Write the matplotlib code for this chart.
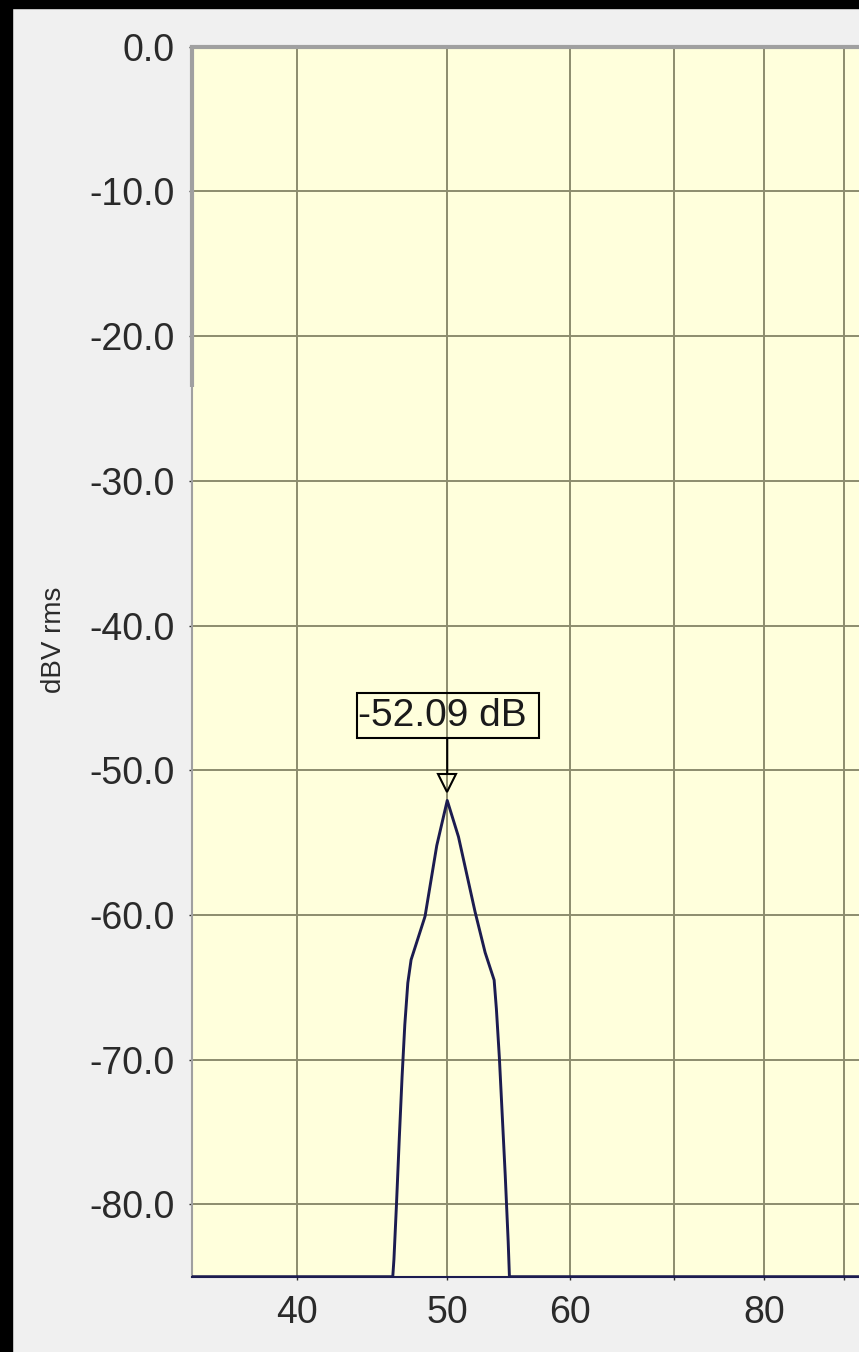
import matplotlib
matplotlib.use("Agg")
import matplotlib.pyplot as plt
import matplotlib.transforms as mtransforms
from matplotlib.patches import Rectangle
from matplotlib.ticker import FixedLocator, FixedFormatter, NullLocator

plt.rcParams['font.family'] = ['Liberation Sans', 'DejaVu Sans']

# ---- data ----
freq_hz = [30.0, 46.12, 46.20, 46.37, 46.57, 46.76, 46.95, 47.16, 47.39,
           48.38, 49.23, 50.00, 50.84, 52.11, 52.89, 53.60, 53.78, 54.02,
           54.24, 54.49, 54.73, 54.83, 120.0]
level_dbv = [-85.0, -85.0, -83.8, -80.1, -75.4, -71.2, -67.6, -64.7, -63.1,
             -60.1, -55.2, -52.09, -54.6, -59.8, -62.6, -64.5, -66.5, -69.9,
             -73.7, -78.0, -82.6, -85.0, -85.0]

peak_freq = 50.0
peak_level = -52.09
peak_label = "-52.09 dB"

x_ticks = [40, 50, 60, 70, 80, 90, 100]
x_tick_labels = ["40", "50", "60", "", "80", "", ""]
y_ticks = [0, -10, -20, -30, -40, -50, -60, -70, -80]
y_tick_labels = ["0.0", "-10.0", "-20.0", "-30.0", "-40.0", "-50.0",
                 "-60.0", "-70.0", "-80.0"]
y_label = "dBV rms"

# ---- figure ----
W, H = 859, 1352
fig = plt.figure(figsize=(W / 100, H / 100), dpi=100, facecolor="#f0f0f0")

ax_left_px, ax_right_px = 191.7, 914.7
ax_top_px, ax_bot_px = 46.7, 1276.7
ax = fig.add_axes([ax_left_px / W, (H - ax_bot_px) / H,
                   (ax_right_px - ax_left_px) / W, (ax_bot_px - ax_top_px) / H])
ax.set_facecolor("#ffffdc")

ax.set_xscale("log")
ax.set_xlim(34.23, 100)
ax.set_ylim(-85, 0)

grid_col = "#8c8c6e"
ax.xaxis.set_major_locator(FixedLocator(x_ticks))
ax.xaxis.set_major_formatter(FixedFormatter(x_tick_labels))
ax.xaxis.set_minor_locator(NullLocator())
ax.set_yticks(y_ticks)
ax.set_yticklabels(y_tick_labels)
ax.grid(True, which="major", color=grid_col, lw=1.4, zorder=1)
ax.set_axisbelow(True)

ax.tick_params(axis="both", which="major", labelsize=27, colors="#2a2a2a",
               length=2, width=1)
ax.tick_params(axis="y", pad=10)
ax.tick_params(axis="x", pad=11)

ax.set_ylabel(y_label, fontsize=20, color="#2a2a2a")
ax.yaxis.set_label_coords(-0.172, 0.518)

ax.spines["right"].set_visible(False)
ax.spines["top"].set_color("#a0a0a0")
ax.spines["top"].set_linewidth(3.0)
ax.spines["left"].set_color("#a0a0a0")
ax.spines["left"].set_linewidth(1.5)
ax.spines["bottom"].set_color("#1c1c50")
ax.spines["bottom"].set_linewidth(1.5)
# thicker upper part of the left frame
ax.plot([34.23, 34.23], [0, -23.5], color="#a0a0a0", lw=3.0, clip_on=False,
        solid_capstyle="butt", zorder=3)

# trace
ax.plot(freq_hz, level_dbv, color="#1c1c50", lw=2.1, zorder=4)

# peak marker annotation (box offsets in pixels relative to the peak)
px, py = ax.transData.transform((peak_freq, peak_level))
box = Rectangle((px - 90.5, py + 62), 182.6, 45, transform=None,
                fill=False, ec="black", lw=1.5, zorder=6)
fig.add_artist(box)
fig.text(px - 89, py + 84.5, peak_label, transform=None, ha="left",
         va="center", fontsize=28, color="#1a1a1a", zorder=7)
ax.annotate("", xy=(peak_freq, peak_level), xycoords="data",
            xytext=(0, 62), textcoords="offset pixels",
            arrowprops=dict(arrowstyle="-", color="black", lw=1.5,
                            shrinkA=0, shrinkB=20),
            zorder=6)
tr = mtransforms.offset_copy(ax.transData, fig=fig, x=0, y=17, units="dots")
ax.plot([peak_freq], [peak_level], transform=tr, marker="v", ms=13,
        mfc="none", mec="black", mew=1.5, zorder=6)

# black screenshot borders
fig.add_artist(Rectangle((0, 1 - 8 / H), 1, 8 / H, transform=fig.transFigure,
                         color="black", zorder=10))
fig.add_artist(Rectangle((0, 0), 12 / W, 1, transform=fig.transFigure,
                         color="black", zorder=10))

fig.savefig("out.png", dpi=100, facecolor=fig.get_facecolor())
